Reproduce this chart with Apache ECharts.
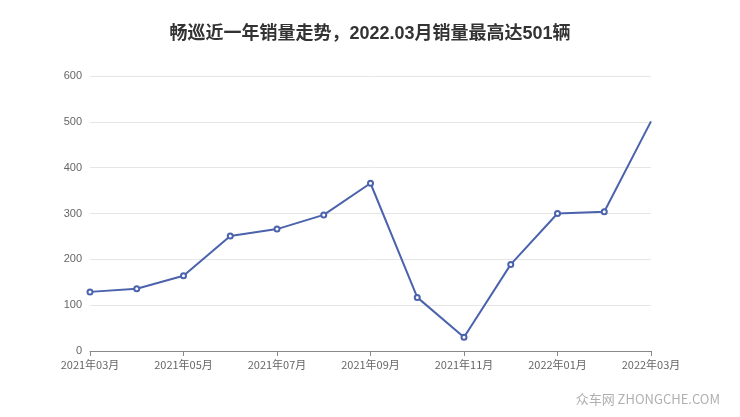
<!DOCTYPE html>
<html lang="zh">
<head>
    <meta charset="UTF-8">
    <title>畅巡销量走势</title>
    <script src="https://cdn.jsdelivr.net/npm/echarts@6.0.0/dist/echarts.min.js"></script>
    <style>
        html, body { margin: 0; padding: 0; background: #fff; }
    </style>
</head>
<body>
    <div id="main" style="width: 740px;height:417px;"></div>
    <script type="text/javascript">
        // months shown on the x axis
        const months = ['2021年03月', '2021年04月', '2021年05月', '2021年06月', '2021年07月',
            '2021年08月', '2021年09月', '2021年10月', '2021年11月', '2021年12月',
            '2022年01月', '2022年02月', '2022年03月'];
        // monthly sales
        const sales = [129, 136, 164, 251, 266, 297, 366, 117, 30, 189, 300, 304, 501];
        const yTicks = [0, 100, 200, 300, 400, 500, 600];

        let myChart = echarts.init(document.getElementById('main'));

        // the last point sits on the grid edge and shows no marker in the original
        let lineData = sales.map((v, i) => i === sales.length - 1 ? { value: v, symbol: 'none' } : v);

        let options = {
            backgroundColor: '#fff',
            title: {
                text: '畅巡近一年销量走势，2022.03月销量最高达501辆',
                left: 'center',
                top: 20,
                textStyle: {
                    fontSize: 18,
                    fontWeight: 'bold',
                    color: '#333',
                    fontFamily: 'Liberation Sans, Noto Sans CJK SC'
                }
            },
            grid: { left: 90, right: 89, top: 76, bottom: 66 },
            xAxis: {
                type: 'category',
                data: months,
                boundaryGap: false,
                axisLine: { lineStyle: { color: '#888' } },
                axisTick: { interval: 1, lineStyle: { color: '#888' } },
                axisLabel: {
                    interval: 1,
                    color: '#666',
                    fontSize: 11,
                    fontFamily: 'Noto Sans CJK SC'
                },
                splitLine: { show: false }
            },
            yAxis: {
                type: 'value',
                min: yTicks[0],
                max: yTicks[yTicks.length - 1],
                interval: 100,
                axisLine: { show: false },
                axisTick: { show: false },
                axisLabel: { color: '#666', fontSize: 11 },
                splitLine: { lineStyle: { color: '#e6e6e6' } }
            },
            graphic: [{
                type: 'text',
                right: 20,
                bottom: 11,
                style: {
                    text: '众车网 ZHONGCHE.COM',
                    fill: '#b0b0b0',
                    fontSize: 13,
                    fontFamily: 'Noto Sans CJK SC'
                }
            }],
            series: [{
                name: '销量',
                type: 'line',
                data: lineData,
                symbol: 'emptyCircle',
                symbolSize: 5,
                lineStyle: { color: '#4b62ad', width: 2 },
                itemStyle: { color: '#4b62ad', borderWidth: 1.5 }
            }]
        };

        myChart.setOption(options);
    </script>
</body>
</html>
